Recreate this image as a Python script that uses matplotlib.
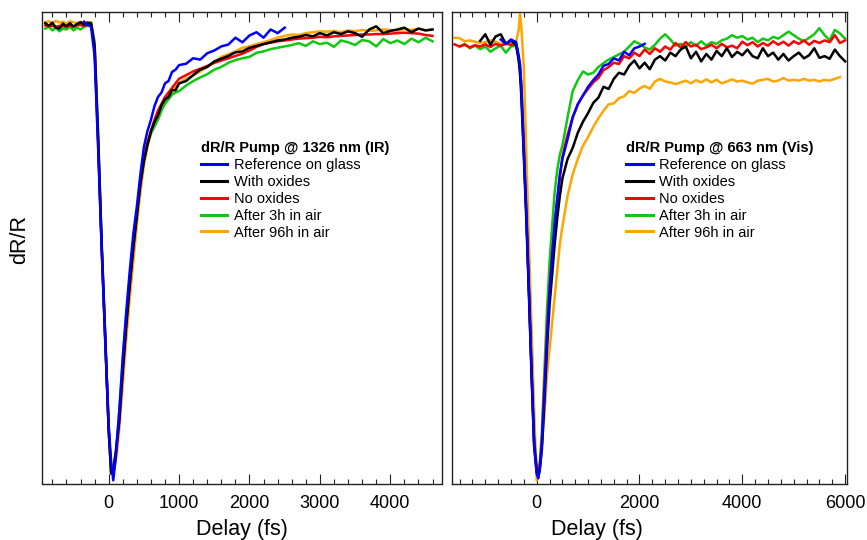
import numpy as np
import matplotlib
matplotlib.use("Agg")
import matplotlib.pyplot as plt
from matplotlib.lines import Line2D
from matplotlib.ticker import MultipleLocator

nan = np.nan
plt.rcParams['font.family'] = ['Liberation Sans', 'DejaVu Sans']

series_labels = ["Reference on glass", "With oxides", "No oxides",
                 "After 3h in air", "After 96h in air"]
series_colors = ["#0000ff", "#000000", "#ff0000", "#10c810", "#ffa500"]

# ---------------- Pump @ 1326 nm (IR) ----------------
delay_ir = [-900, -850, -800, -750, -700, -650, -600, -550, -500, -450, -400, -350, -300, -250,
            -200, -150, -100, -50, 0, 35, 65, 100,
            150, 200, 250, 300, 350, 400, 450, 500, 550, 600, 650, 700, 750, 800, 850, 900, 950, 1000,
            1100, 1200, 1300, 1400, 1500, 1600, 1700, 1800, 1900, 2000,
            2100, 2200, 2300, 2400, 2500, 2600, 2700, 2800, 2900, 3000,
            3100, 3200, 3300, 3400, 3500, 3600, 3700, 3800, 3900, 4000,
            4100, 4200, 4300, 4400, 4500, 4600]

ir_reference = [nan, nan, nan, nan, nan, nan, nan, nan, nan, nan, nan, 0.005, -0.002, -0.006,
                -0.07, -0.27, -0.49, -0.69, -0.88, -0.96, -1.0, -0.95,
                -0.85, -0.73, -0.63, -0.54, -0.46, -0.40, -0.33, -0.27, -0.235, -0.21, -0.18, -0.16,
                -0.15, -0.13, -0.125, -0.105, -0.10, -0.09,
                -0.087, -0.075, -0.078, -0.064, -0.058, -0.049, -0.045, -0.030, -0.040, -0.025,
                -0.018, -0.030, -0.012, -0.020, -0.008, nan, nan, nan, nan, nan,
                nan, nan, nan, nan, nan, nan, nan, nan, nan, nan,
                nan, nan, nan, nan, nan, nan]

ir_oxides = [0.002, -0.004, 0.003, -0.008, -0.010, 0.001, -0.005, 0.002, -0.006, 0.000, 0.004, -0.002, 0.003, 0.001,
             -0.05, -0.25, -0.48, -0.68, -0.89, -0.985, -0.975, -0.94,
             -0.87, -0.76, -0.66, -0.57, -0.49, -0.42, -0.35, -0.30, -0.265, -0.235, -0.215, -0.20,
             -0.178, -0.165, -0.16, -0.145, -0.145, -0.13,
             -0.125, -0.112, -0.100, -0.094, -0.082, -0.076, -0.070, -0.062, -0.060, -0.052,
             -0.048, -0.044, -0.040, -0.036, -0.034, -0.030, -0.028, -0.024, -0.027, -0.020,
             -0.025, -0.018, -0.022, -0.016, -0.020, -0.028, -0.012, -0.005, -0.020, -0.015,
             -0.012, -0.008, -0.018, -0.010, -0.014, -0.012]

ir_no_oxides = [-0.003, -0.005, -0.004, -0.006, -0.004, -0.005, -0.006, -0.004, -0.005, -0.003, -0.002, -0.004, -0.002, 0.000,
                -0.05, -0.26, -0.49, -0.69, -0.89, -0.975, -0.985, -0.95,
                -0.87, -0.76, -0.66, -0.57, -0.49, -0.42, -0.35, -0.30, -0.26, -0.235, -0.21, -0.19,
                -0.175, -0.16, -0.15, -0.14, -0.13, -0.12,
                -0.112, -0.104, -0.098, -0.092, -0.085, -0.080, -0.075, -0.070, -0.065, -0.058,
                -0.050, -0.044, -0.041, -0.038, -0.036, -0.034, -0.032, -0.031, -0.030, -0.028,
                -0.029, -0.027, -0.026, -0.025, -0.024, -0.023, -0.023, -0.022, -0.022, -0.021,
                -0.020, -0.019, -0.020, -0.021, -0.024, -0.026]

ir_air_3h = [-0.010, -0.006, -0.014, -0.008, -0.016, -0.010, -0.012, -0.006, -0.014, -0.008, -0.012, -0.006, -0.004, 0.004,
             -0.04, -0.24, -0.48, -0.68, -0.88, -0.985, -0.975, -0.94,
             -0.85, -0.74, -0.64, -0.56, -0.48, -0.415, -0.35, -0.30, -0.265, -0.24, -0.225, -0.21,
             -0.19, -0.175, -0.165, -0.155, -0.15, -0.147,
             -0.135, -0.125, -0.117, -0.110, -0.100, -0.094, -0.085, -0.079, -0.075, -0.072,
             -0.063, -0.060, -0.055, -0.052, -0.049, -0.046, -0.042, -0.048, -0.038, -0.044,
             -0.041, -0.050, -0.036, -0.040, -0.046, -0.035, -0.038, -0.049, -0.033, -0.042,
             -0.036, -0.044, -0.032, -0.040, -0.030, -0.038]

ir_air_96h = [0.004, 0.006, 0.002, 0.007, 0.003, 0.005, 0.001, 0.006, 0.004, 0.002, 0.005, 0.003, 0.004, 0.002,
              -0.04, -0.24, -0.48, -0.68, -0.89, -0.985, -0.98, -0.96,
              -0.89, -0.79, -0.69, -0.60, -0.52, -0.44, -0.37, -0.31, -0.27, -0.24, -0.22, -0.20,
              -0.185, -0.17, -0.16, -0.147, -0.138, -0.13,
              -0.120, -0.113, -0.104, -0.094, -0.084, -0.072, -0.066, -0.060, -0.052, -0.049,
              -0.044, -0.040, -0.035, -0.030, -0.026, -0.023, -0.024, -0.020, -0.018, -0.016,
              -0.017, -0.015, -0.018, -0.014, -0.016, -0.013, -0.015, -0.014, -0.012, -0.013,
              -0.015, -0.011, -0.013, -0.010, -0.014, -0.012]

# ---------------- Pump @ 663 nm (Vis) ----------------
delay_vis = [-1600, -1500, -1400, -1300, -1200, -1100, -1000, -900, -800, -700, -600, -500, -400,
             -350, -325, -300, -250, -200, -150, -100, -50, 0, 30, 60, 100, 150, 200, 250, 300, 350,
             400, 450, 500, 600, 700, 800, 900, 1000,
             1100, 1200, 1300, 1400, 1500, 1600, 1700, 1800, 1900, 2000,
             2100, 2200, 2300, 2400, 2500, 2600, 2700, 2800, 2900, 3000,
             3100, 3200, 3300, 3400, 3500, 3600, 3700, 3800, 3900, 4000,
             4100, 4200, 4300, 4400, 4500, 4600, 4700, 4800, 4900, 5000,
             5100, 5200, 5300, 5400, 5500, 5600, 5700, 5800, 5900, 6000]

vis_reference = [nan, nan, nan, nan, nan, nan, nan, nan, nan, 0.008, -0.002, 0.008, 0.002,
                 -0.03, -0.05, -0.10, -0.25, -0.39, -0.57, -0.75, -0.92, -0.985, -0.995, -0.975, -0.92,
                 -0.80, -0.68, -0.57, -0.49, -0.41,
                 -0.355, -0.30, -0.265, -0.22, -0.17, -0.14, -0.12, -0.10,
                 -0.085, -0.072, -0.052, -0.048, -0.035, -0.040, -0.020, -0.028, -0.012, -0.008,
                 -0.002, nan, nan, nan, nan, nan, nan, nan, nan, nan,
                 nan, nan, nan, nan, nan, nan, nan, nan, nan, nan,
                 nan, nan, nan, nan, nan, nan, nan, nan, nan, nan,
                 nan, nan, nan, nan, nan, nan, nan, nan, nan, nan]

vis_oxides = [nan, nan, nan, nan, nan, 0.005, 0.020, -0.004, 0.015, 0.020, -0.002, 0.006, -0.005,
              -0.04, -0.07, -0.12, -0.26, -0.41, -0.58, -0.76, -0.92, -0.98, -0.99, -0.975, -0.93,
              -0.82, -0.70, -0.60, -0.53, -0.46,
              -0.40, -0.35, -0.31, -0.265, -0.24, -0.205, -0.18, -0.16,
              -0.137, -0.125, -0.100, -0.105, -0.082, -0.068, -0.072, -0.052, -0.040, -0.058,
              -0.045, -0.060, -0.038, -0.030, -0.040, -0.022, -0.030, -0.015, -0.008, -0.035,
              -0.020, -0.042, -0.025, -0.038, -0.018, -0.030, -0.012, -0.032, -0.020, -0.028,
              -0.015, -0.030, -0.035, -0.012, -0.030, -0.022, -0.038, -0.025, -0.040, -0.030,
              -0.022, -0.035, -0.028, -0.012, -0.034, -0.030, -0.036, -0.015, -0.030, -0.042]

vis_no_oxides = [-0.003, -0.008, -0.004, -0.010, -0.005, -0.008, -0.003, -0.009, -0.002, -0.006, -0.002, -0.004, -0.002,
                 -0.035, -0.06, -0.10, -0.24, -0.40, -0.57, -0.75, -0.91, -0.975, -0.988, -0.965, -0.91,
                 -0.78, -0.66, -0.56, -0.48, -0.42,
                 -0.36, -0.31, -0.26, -0.21, -0.17, -0.14, -0.12, -0.105,
                 -0.090, -0.080, -0.062, -0.055, -0.045, -0.048, -0.030, -0.035, -0.022, -0.030,
                 -0.015, -0.025, -0.012, -0.020, -0.008, -0.015, 0.000, -0.010, 0.002, -0.008,
                 -0.004, -0.014, -0.010, -0.004, -0.012, -0.002, -0.010, -0.006, -0.012, 0.003,
                 -0.005, 0.002, -0.008, 0.000, -0.006, 0.004, -0.004, 0.003, -0.006, 0.004,
                 -0.002, 0.006, -0.004, 0.005, 0.000, 0.006, 0.002, 0.018, 0.000, 0.006]

vis_air_3h = [nan, -0.008, -0.002, -0.012, -0.006, -0.014, -0.008, -0.020, -0.012, -0.006, -0.022, -0.008, -0.006,
              -0.03, -0.05, -0.09, -0.23, -0.39, -0.56, -0.74, -0.90, -0.97, -0.985, -0.96, -0.89,
              -0.75, -0.61, -0.50, -0.42, -0.34,
              -0.29, -0.255, -0.235, -0.17, -0.11, -0.085, -0.065, -0.072,
              -0.068, -0.055, -0.046, -0.038, -0.032, -0.026, -0.020, -0.008, 0.004, -0.002,
              -0.010, -0.015, -0.004, 0.010, 0.020, 0.008, -0.006, -0.002, -0.008, 0.002,
              -0.006, 0.004, -0.006, 0.002, -0.002, 0.006, 0.010, 0.018, 0.012, 0.016,
              0.008, 0.012, 0.002, 0.010, 0.006, 0.014, 0.010, 0.018, 0.026, 0.018,
              0.010, 0.004, 0.012, 0.020, 0.034, 0.018, 0.006, 0.030, 0.022, 0.010]

vis_air_96h = [0.012, 0.011, 0.004, 0.006, 0.003, 0.000, 0.002, 0.006, 0.003, -0.002, 0.001, -0.001, 0.004,
               0.030, 0.066, 0.040, -0.06, -0.26, -0.46, -0.65, -0.84, -1.0, -0.995, -0.965, -0.92,
               -0.85, -0.76, -0.70, -0.64, -0.58,
               -0.52, -0.46, -0.42, -0.35, -0.30, -0.265, -0.235, -0.215,
               -0.192, -0.172, -0.155, -0.140, -0.138, -0.126, -0.122, -0.110, -0.114, -0.104,
               -0.098, -0.105, -0.088, -0.082, -0.088, -0.090, -0.094, -0.090, -0.086, -0.092,
               -0.085, -0.090, -0.083, -0.090, -0.084, -0.092, -0.088, -0.083, -0.088, -0.086,
               -0.090, -0.093, -0.086, -0.084, -0.082, -0.088, -0.086, -0.080, -0.086, -0.084,
               -0.086, -0.082, -0.086, -0.084, -0.088, -0.084, -0.086, -0.082, -0.078, nan]

ir_series = [ir_reference, ir_oxides, ir_no_oxides, ir_air_3h, ir_air_96h]
vis_series = [vis_reference, vis_oxides, vis_no_oxides, vis_air_3h, vis_air_96h]

W, H = 867, 540
fig = plt.figure(figsize=(W / 100, H / 100), dpi=100)


def px_axes(x0, x1, y0, y1):
    return fig.add_axes([x0 / W, 1 - y1 / H, (x1 - x0) / W, (y1 - y0) / H])


ax_ir = px_axes(42, 441.7, 11.7, 483.5)
ax_vis = px_axes(452.3, 847.3, 11.7, 483.5)

draw_order = [4, 3, 2, 1, 0]


def draw_panel(ax, delay, series, title, xlim, ylim, major, minor, legend_xy):
    for i in draw_order:
        ax.plot(delay, series[i], color=series_colors[i], lw=1.8, solid_joinstyle='round')
    ax.set_xlim(*xlim)
    ax.set_ylim(*ylim)
    ax.xaxis.set_major_locator(MultipleLocator(major))
    ax.xaxis.set_minor_locator(MultipleLocator(minor))
    ax.tick_params(axis='x', which='both', direction='in', top=True, bottom=True,
                   labelsize=13, pad=8, width=0.8, color='#222222')
    ax.tick_params(axis='x', which='major', length=7)
    ax.tick_params(axis='x', which='minor', length=3.8)
    ax.set_yticks([])
    for s in ax.spines.values():
        s.set_linewidth(1.0)
        s.set_color('#222222')
    handles = [Line2D([], [], color=c, lw=2.2) for c in series_colors]
    leg = ax.legend(handles, series_labels, title=title, loc='upper left',
                    bbox_to_anchor=(legend_xy[0] / W, 1 - legend_xy[1] / H),
                    bbox_transform=fig.transFigure, frameon=False, borderpad=0,
                    borderaxespad=0, handlelength=1.83, handletextpad=0.45,
                    labelspacing=0.2, fontsize=10.5, alignment='left',
                    title_fontproperties={'weight': 'bold', 'size': 10.5})
    return leg


draw_panel(ax_ir, delay_ir, ir_series, "dR/R Pump @ 1326 nm (IR)",
           (-947, 4730), (-1.007, 0.027), 1000, 200, (200.7, 141))
draw_panel(ax_vis, delay_vis, vis_series, "dR/R Pump @ 663 nm (Vis)",
           (-1642, 6043), (-1.007, 0.0716), 2000, 250, (626, 141))

fig.text(241.7 / W, 1 - 529 / H, "Delay (fs)", ha='center', va='center', fontsize=15.5)
fig.text(597 / W, 1 - 529 / H, "Delay (fs)", ha='center', va='center', fontsize=15.5)
fig.text(20 / W, 1 - 240 / H, "dR/R", rotation=90, ha='center', va='center', fontsize=15.5)

fig.savefig("out.png", dpi=100)
